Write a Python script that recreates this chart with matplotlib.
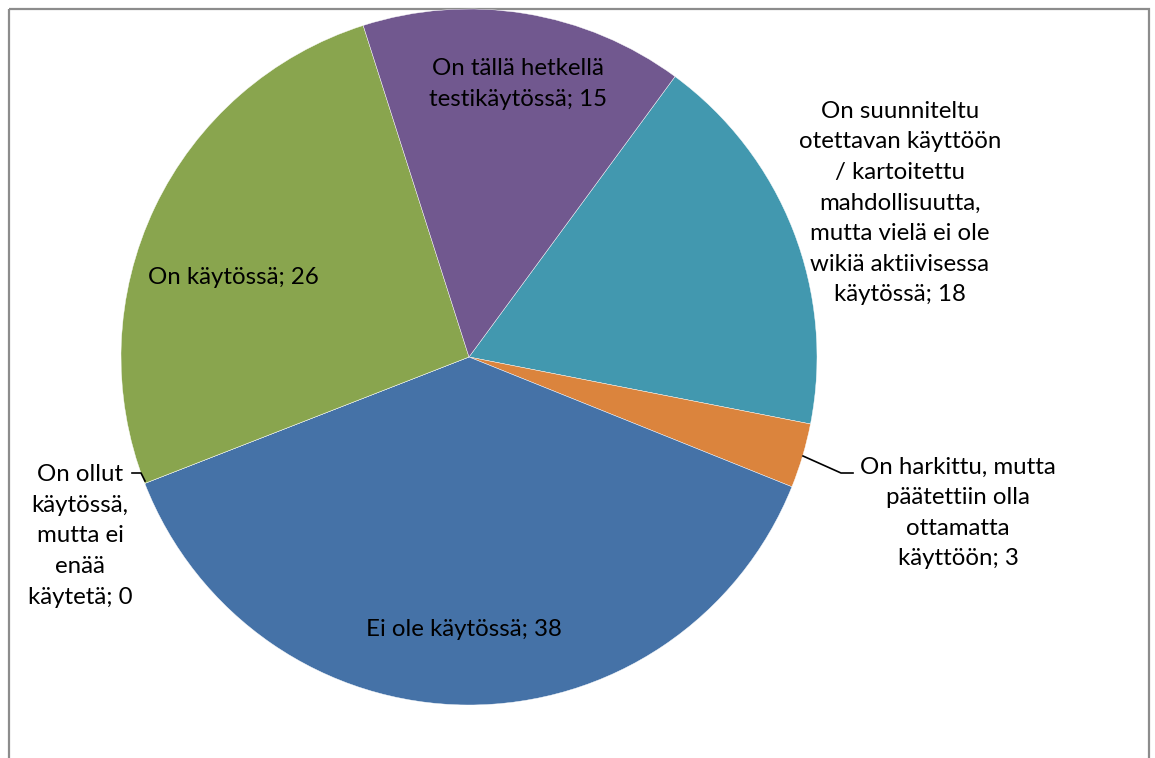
import matplotlib.pyplot as plt
from matplotlib.patches import Rectangle
import numpy as np

# --- data (clockwise order, as in the reference) ---
labels = [
    'On suunniteltu\notettavan käyttöön\n/ kartoitettu\nmahdollisuutta,\nmutta vielä ei ole\nwikiä aktiivisessa\nkäytössä',
    'On harkittu, mutta\npäätettiin olla\nottamatta\nkäyttöön',
    'Ei ole käytössä',
    'On ollut\nkäytössä,\nmutta ei\nenää\nkäytetä',
    'On käytössä',
    'On tällä hetkellä\ntestikäytössä',
]
values = [18, 3, 38, 0, 26, 15]
colors = ['#4298AF', '#DB843D', '#4572A7', '#AA4643', '#89A54E', '#71588F']

# label placement in pixel coordinates of the figure (layout only)
label_pos = [(900, 203), (958, 513), (464, 630), (80, 536), (233, 278), (518, 84)]

W, H = 1155, 758
cx, cy, r = 469, 357, 348

plt.rcParams['font.family'] = ['Lato', 'DejaVu Sans']

fig = plt.figure(figsize=(W / 100, H / 100), dpi=100)
ax = fig.add_axes([0, 0, 1, 1])

# y-axis is flipped (pixel coords), so counterclock=True draws clockwise on screen
wedges, _ = ax.pie(values, colors=colors, startangle=-53.7, counterclock=True,
                   center=(cx, cy), radius=r,
                   wedgeprops=dict(edgecolor='white', linewidth=0.3))
ax.set_xlim(0, W)
ax.set_ylim(H, 0)
ax.set_aspect('equal')
ax.axis('off')

# chart frame
ax.add_patch(Rectangle((9, 9), 1140, 800, fill=False, edgecolor='#8c8c8c', linewidth=1.6, zorder=0))

for lab, val, (x, y) in zip(labels, values, label_pos):
    ax.text(x, y, f'{lab}; {val}', ha='center', va='center', fontsize=17.3,
            linespacing=1.56, color='black', zorder=5)

# leader lines for the outside labels
ax.plot([803, 841, 853], [456, 473, 473], color='black', linewidth=1.2, zorder=4)
ax.plot([132, 141, 145], [473, 473, 481], color='black', linewidth=1.2, zorder=4)

plt.savefig('out.png', dpi=100)
